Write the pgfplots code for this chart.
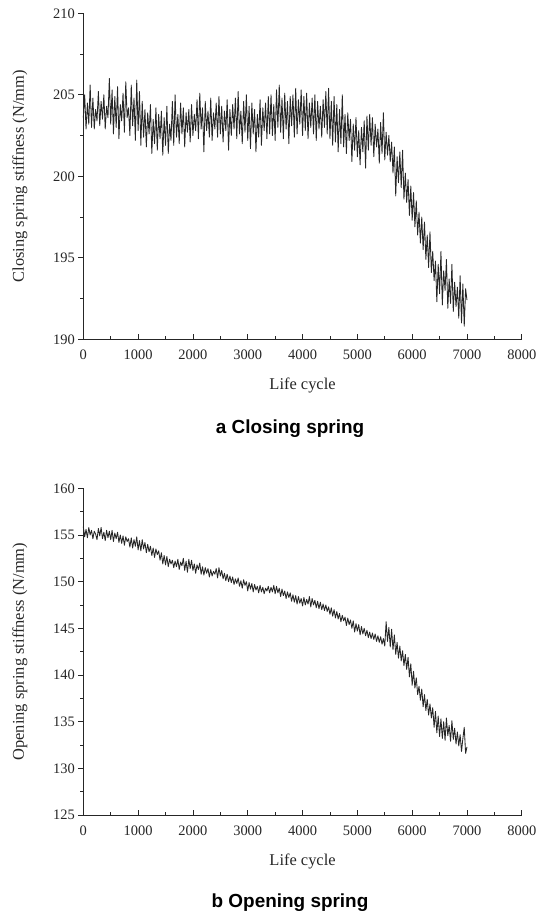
\documentclass[border=0pt]{standalone}
\usepackage{fontspec}
\setmainfont{Liberation Serif}
\newfontfamily\capfont{Liberation Sans}
\usepackage{pgfplots}
\pgfplotsset{compat=1.18}
\pgfplotsset{
  springaxis/.style={
    scale only axis,
    width=438.5bp,
    axis lines=left,
    axis line style={-, line width=0.8bp, black!85},
    xmin=0, xmax=8000,
    xtick={0,1000,...,8000},
    minor x tick num=1,
    minor y tick num=1,
    xtick align=inside,
    ytick align=outside,
    major tick length=5bp,
    minor tick length=3bp,
    every tick/.style={line width=0.8bp, black!85},
    scaled x ticks=false,
    scaled y ticks=false,
    /pgf/number format/1000 sep={},
    /pgf/number format/assume math mode=true,
    tick label style={font=\fontsize{14.5}{16}\selectfont, black!85},
    xticklabel style={yshift=-7.5bp},
    every axis x label/.style={at={(axis description cs:0.5,-0.1555)}, anchor=base, font=\fontsize{16.5}{18}\selectfont, text=black!85},
    every axis y label/.style={at={(axis description cs:-0.1444,0.5)}, rotate=90, anchor=center, font=\fontsize{16.5}{18}\selectfont, text=black!85},
    clip=false,
    line join=round,
  },
  springline/.style={black!85, line width=0.85bp, mark=none},
}
\begin{document}
\begin{tikzpicture}
\useasboundingbox (0,0) rectangle (547bp,-916bp);
\begin{axis}[springaxis,
  at={(83.3bp,-339.3bp)}, anchor=south west,
  height=326bp,
  ymin=190, ymax=210, ytick={190,195,200,205,210},
  xlabel={Life cycle},
  ylabel={Closing spring stiffness (N/mm)}]
\addplot[springline] table {
x y
0 203.6
25 205.0
50 202.9
75 204.5
100 203.2
125 205.6
150 203.0
175 204.8
200 202.9
225 204.1
250 203.4
275 205.2
300 203.1
325 204.6
350 203.5
375 205.0
400 202.9
425 204.3
450 203.6
475 206.0
500 203.2
525 205.3
550 202.6
575 204.9
600 203.0
625 205.5
650 202.3
675 204.4
700 203.4
725 205.1
750 202.7
775 205.8
800 203.6
825 204.2
850 202.5
875 205.6
900 203.1
925 204.8
950 202.2
975 205.9
1000 202.8
1025 205.2
1050 201.9
1075 204.6
1100 202.4
1125 204.1
1150 201.8
1175 203.9
1200 202.6
1225 204.4
1250 201.4
1275 203.5
1300 202.0
1325 204.2
1350 201.6
1375 203.8
1400 202.3
1425 204.0
1450 201.3
1475 203.6
1500 201.9
1525 204.3
1550 201.4
1575 203.2
1600 202.2
1625 204.6
1650 201.9
1675 205.0
1700 202.4
1725 203.8
1750 202.0
1775 204.5
1800 202.6
1825 204.2
1850 201.8
1875 203.9
1900 202.7
1925 204.1
1950 202.1
1975 204.4
2000 202.5
2025 203.8
2050 202.8
2075 204.7
2100 202.3
2125 205.1
2150 202.9
2175 204.2
2200 201.5
2225 204.6
2250 202.8
2275 204.0
2300 202.4
2325 204.8
2350 202.2
2375 203.9
2400 202.9
2425 204.5
2450 202.4
2475 204.9
2500 202.6
2525 204.3
2550 202.1
2575 204.0
2600 202.8
2625 204.7
2650 201.6
2675 204.1
2700 202.5
2725 204.4
2750 202.9
2775 204.8
2800 202.3
2825 205.2
2850 202.6
2875 204.0
2900 202.0
2925 204.6
2950 202.7
2975 205.0
3000 202.2
3025 204.3
3050 201.7
3075 204.5
3100 202.6
3125 204.1
3150 201.5
3175 203.8
3200 202.4
3225 204.7
3250 201.9
3275 204.2
3300 202.8
3325 204.5
3350 202.3
3375 204.9
3400 202.6
3425 205.0
3450 202.5
3475 204.4
3500 202.2
3525 205.3
3550 203.0
3575 205.6
3600 202.7
3625 204.8
3650 202.3
3675 205.1
3700 202.9
3725 204.6
3750 202.0
3775 204.9
3800 203.1
3825 205.0
3850 202.4
3875 205.4
3900 202.6
3925 204.7
3950 203.2
3975 205.3
4000 202.5
4025 204.9
4050 202.8
4075 205.1
4100 202.3
4125 204.5
4150 203.0
4175 204.8
4200 202.6
4225 205.0
4250 202.2
4275 204.6
4300 202.9
4325 204.3
4350 202.4
4375 204.7
4400 203.0
4425 205.2
4450 202.6
4475 205.4
4500 202.3
4525 204.6
4550 201.9
4575 204.9
4600 202.1
4625 204.4
4650 201.5
4675 204.1
4700 202.0
4725 205.0
4750 201.8
4775 203.8
4800 201.4
4825 203.9
4850 202.2
4875 203.5
4900 200.9
4925 203.2
4950 201.6
4975 203.6
5000 201.2
5025 202.8
5050 200.7
5075 203.0
5100 201.5
5125 203.4
5150 200.5
5175 203.7
5200 201.6
5225 203.8
5250 201.9
5275 203.6
5300 201.2
5325 203.2
5350 201.8
5375 202.9
5400 200.8
5425 203.3
5450 201.4
5475 203.9
5500 201.0
5525 202.7
5550 201.3
5575 202.5
5600 200.9
5625 202.1
5650 200.2
5675 201.8
5700 198.8
5725 201.2
5750 199.6
5775 201.5
5800 199.3
5825 201.6
5850 198.6
5875 200.2
5900 198.4
5925 199.8
5950 197.6
5975 199.4
6000 197.3
6025 199.0
6050 196.9
6075 198.5
6100 196.4
6125 197.8
6150 195.9
6175 197.5
6200 195.5
6225 197.2
6250 194.9
6275 196.4
6300 194.4
6325 196.6
6350 194.1
6375 195.4
6400 193.6
6425 194.8
6450 192.3
6475 194.6
6500 192.8
6525 195.4
6550 192.1
6575 194.2
6600 193.0
6625 194.9
6650 191.9
6675 193.7
6700 192.2
6725 194.6
6750 191.7
6775 193.5
6800 192.0
6825 193.2
6850 191.3
6875 193.9
6900 191.0
6925 193.4
6950 190.8
6975 193.1
7000 192.4
};
\end{axis}
\node[anchor=base, font=\capfont\bfseries\fontsize{19}{21}\selectfont] at (290bp,-433bp) {a Closing spring};
\begin{axis}[springaxis,
  at={(83.3bp,-815bp)}, anchor=south west,
  height=326.7bp,
  ymin=125, ymax=160, ytick={125,130,...,160},
  xlabel={Life cycle},
  ylabel={Opening spring stiffness (N/mm)}]
\addplot[springline] table {
x y
0 155.9
25 154.8
50 155.6
75 154.7
100 155.8
125 155.0
150 155.5
175 154.6
200 155.4
225 155.1
250 154.5
275 155.7
300 154.9
325 155.8
350 154.6
375 155.3
400 154.4
425 155.5
450 154.7
475 155.4
500 154.5
525 155.5
550 154.3
575 155.2
600 154.6
625 155.3
650 154.2
675 155.0
700 154.1
725 154.9
750 153.9
775 154.8
800 154.3
825 154.6
850 153.7
875 154.7
900 153.6
925 154.5
950 153.8
975 154.8
1000 153.4
1025 154.4
1050 153.3
1075 154.5
1100 153.5
1125 154.2
1150 153.1
1175 154.0
1200 153.2
1225 153.8
1250 152.8
1275 153.6
1300 152.6
1325 153.5
1350 152.9
1375 153.3
1400 152.3
1425 153.1
1450 151.9
1475 152.8
1500 151.8
1525 152.7
1550 151.6
1575 152.4
1600 151.9
1625 152.3
1650 151.5
1675 152.2
1700 151.6
1725 152.4
1750 151.3
1775 152.1
1800 151.7
1825 152.5
1850 151.2
1875 152.2
1900 151.0
1925 152.4
1950 151.4
1975 152.3
2000 151.2
2025 151.9
2050 150.9
2075 151.8
2100 151.3
2125 152.0
2150 150.8
2175 151.6
2200 150.7
2225 151.5
2250 150.9
2275 151.4
2300 150.5
2325 151.3
2350 150.6
2375 151.1
2400 150.8
2425 151.4
2450 150.4
2475 151.5
2500 150.6
2525 151.2
2550 150.3
2575 150.9
2600 150.1
2625 150.8
2650 150.0
2675 150.6
2700 149.9
2725 150.5
2750 149.7
2775 150.3
2800 149.8
2825 150.4
2850 149.5
2875 150.1
2900 149.3
2925 150.2
2950 149.6
2975 150.0
3000 149.0
3025 149.9
3050 149.2
3075 149.8
3100 148.9
3125 149.7
3150 149.1
3175 149.5
3200 148.8
3225 149.6
3250 148.9
3275 149.4
3300 148.7
3325 149.3
3350 149.0
3375 149.5
3400 148.8
3425 149.4
3450 148.9
3475 149.6
3500 148.7
3525 149.5
3550 148.8
3575 149.3
3600 148.4
3625 149.2
3650 148.5
3675 149.0
3700 148.2
3725 148.9
3750 148.3
3775 148.8
3800 147.9
3825 148.6
3850 147.8
3875 148.5
3900 147.6
3925 148.4
3950 147.7
3975 148.2
4000 147.4
4025 148.3
4050 147.5
4075 148.1
4100 147.6
4125 148.4
4150 147.3
4175 148.2
4200 147.5
4225 148.0
4250 147.2
4275 147.9
4300 147.1
4325 147.8
4350 147.0
4375 147.6
4400 146.9
4425 147.5
4450 146.8
4475 147.3
4500 146.5
4525 147.2
4550 146.3
4575 147.0
4600 146.1
4625 146.8
4650 146.0
4675 146.6
4700 145.7
4725 146.4
4750 145.8
4775 146.2
4800 145.3
4825 146.1
4850 145.4
4875 145.9
4900 145.0
4925 145.8
4950 144.6
4975 145.5
5000 144.7
5025 145.4
5050 144.3
5075 145.2
5100 144.4
5125 145.0
5150 144.2
5175 144.8
5200 144.0
5225 144.6
5250 143.9
5275 144.5
5300 143.8
5325 144.4
5350 143.6
5375 144.2
5400 143.5
5425 144.1
5450 143.3
5475 143.9
5500 143.1
5525 145.7
5550 143.6
5575 145.1
5600 143.0
5625 144.9
5650 142.7
5675 144.3
5700 142.2
5725 143.5
5750 141.8
5775 143.1
5800 141.5
5825 142.6
5850 141.0
5875 142.2
5900 140.6
5925 141.9
5950 139.8
5975 141.2
6000 138.9
6025 140.4
6050 138.6
6075 139.7
6100 137.9
6125 138.8
6150 137.3
6175 138.5
6200 136.6
6225 137.9
6250 136.2
6275 137.4
6300 135.7
6325 136.9
6350 135.4
6375 136.5
6400 134.4
6425 136.1
6450 133.8
6475 135.6
6500 133.4
6525 135.3
6550 133.2
6575 135.0
6600 133.0
6625 135.4
6650 133.5
6675 134.6
6700 132.9
6725 135.1
6750 133.1
6775 134.3
6800 132.6
6825 133.9
6850 132.4
6875 133.6
6900 131.8
6925 133.2
6950 134.4
6975 131.6
7000 132.3
};
\end{axis}
\node[anchor=base, font=\capfont\bfseries\fontsize{19}{21}\selectfont] at (290bp,-907bp) {b Opening spring};
\end{tikzpicture}
\end{document}
